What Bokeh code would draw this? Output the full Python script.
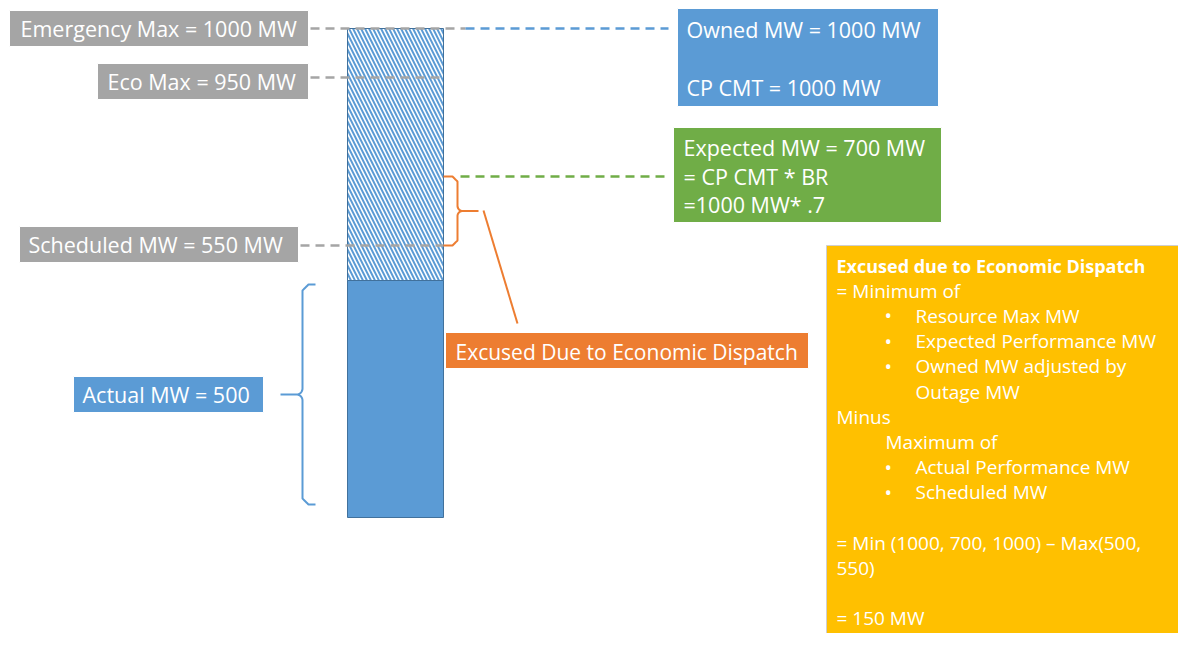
import numpy as np
from bokeh.plotting import figure
from bokeh.embed import file_html
from bokeh.resources import INLINE
from bokeh.core.properties import value

# ---- data ----
levels = ["Emergency Max", "Eco Max", "Expected MW", "Scheduled MW", "Actual MW"]
level_mw = [1000, 950, 700, 550, 500]
owned_mw = 1000
cp_cmt = 1000
br = 0.7
excused_mw = 150

left_labels = ["Emergency Max = 1000 MW", "Eco Max = 950 MW", "Scheduled MW = 550 MW"]
actual_label = "Actual MW = 500"
owned_lines = ["Owned MW = 1000 MW", "CP CMT = 1000 MW"]
expected_lines = ["Expected MW = 700 MW", "= CP CMT * BR", "=1000 MW* .7"]
excused_label = "Excused Due to Economic Dispatch"
formula_lines = [
    ("Excused due to Economic Dispatch", 0, True),
    ("= Minimum of", 0, False),
    ("Resource Max MW", 2, False),
    ("Expected Performance MW", 2, False),
    ("Owned MW adjusted by", 2, False),
    ("Outage MW", 3, False),
    ("Minus", 0, False),
    ("Maximum of", 1, False),
    ("Actual Performance MW", 2, False),
    ("Scheduled MW", 2, False),
    ("", 0, False),
    ("= Min (1000, 700, 1000) \u2013 Max(500,", 0, False),
    ("550)", 0, False),
    ("", 0, False),
    ("= 150 MW", 0, False),
]

# ---- layout (schematic positions, screen px) ----
ypos = {1000: 28, 950: 77, 700: 176, 550: 245, 500: 280, 0: 517}
BAR_L, BAR_R = 347, 443

GRAY = "#A5A5A5"; BLUE = "#5B9BD5"; GREEN = "#70AD47"; ORANGE = "#ED7D31"; YELLOW = "#FFC000"
FONT = value("Open Sans")
LBL = "21.5px"

W, H = 1178, 633
p = figure(width=W, height=H, x_range=(0, W), y_range=(H, 0),
           output_backend="svg", toolbar_location=None, min_border=0)
p.axis.visible = False
p.grid.visible = False
p.outline_line_color = None
p.background_fill_color = "white"


def box(l, t, r, b, color, line_color="white"):
    p.quad(left=[l], right=[r], top=[t], bottom=[b], fill_color=color,
           line_color=line_color, line_width=1)


def txt(x, y, s, size=LBL, bold=False, color="white"):
    p.text(x=[x], y=[y], text=[s], text_font=FONT, text_font_size=size,
           text_color=color, text_align="left", text_baseline="middle",
           text_font_style="bold" if bold else "normal")


def dash(x0, x1, y, color):
    p.line([x0, x1], [y, y], line_color=color, line_width=2.5, line_dash="9 6")


# bar
p.quad(left=[BAR_L], right=[BAR_R], top=[ypos[level_mw[0]]], bottom=[ypos[level_mw[4]]],
       fill_color="white", line_color="#41719C", line_width=1,
       hatch_pattern="left_diagonal_line", hatch_color=BLUE, hatch_scale=8, hatch_weight=2)
p.quad(left=[BAR_L], right=[BAR_R], top=[ypos[level_mw[4]]], bottom=[ypos[0]],
       fill_color=BLUE, line_color="#41719C", line_width=1)

# dashed guide lines
dash(310, 465, ypos[1000], GRAY)
dash(465, 668, ypos[1000], BLUE)
dash(310, BAR_R, ypos[950], GRAY)
dash(300, BAR_R, ypos[550], GRAY)
dash(460, 668, ypos[700], GREEN)


def brace(x_end, x_spine, x_tip, y_top, y_bot, color, r=5):
    ym = (y_top + y_bot) / 2
    s = np.sign(x_spine - x_end)
    t = np.linspace(0, np.pi / 2, 12)
    xs, ys = [x_end], [y_top]
    xs += list(x_spine - s * r * np.cos(t)); ys += list(y_top + r - r * np.cos(t))
    xs += [x_spine]; ys += [ym - r]
    xs += list(x_spine + s * r * (1 - np.cos(t))); ys += list(ym - r + r * np.sin(t))
    xs += [x_tip]; ys += [ym]
    xs += [x_spine + s * r]; ys += [ym]
    xs += list(x_spine + s * r * (1 - np.cos(t[::-1]))); ys += list(ym + r - r * np.sin(t[::-1]))
    xs += [x_spine]; ys += [y_bot - r]
    xs += list(x_spine - s * r * np.cos(t[::-1])); ys += list(y_bot - r + r * np.cos(t[::-1]))
    xs += [x_end]; ys += [y_bot]
    p.line(xs, ys, line_color=color, line_width=2)


brace(BAR_R, 457, 478, ypos[700], ypos[550], ORANGE, r=5)
brace(315, 302, 280, 284, 504, BLUE, r=6)

# orange connector
p.line([483, 517], [210, 323], line_color=ORANGE, line_width=2)

# left gray labels
box(9, 10, 308, 46, GRAY); txt(20, 28, left_labels[0])
box(97, 63, 308, 99, GRAY); txt(107, 81, left_labels[1])
box(19, 226, 298, 262, GRAY); txt(28, 244, left_labels[2])

# actual
box(73, 376, 263, 412, BLUE); txt(82, 394, actual_label)

# owned
box(677, 8, 938, 106, BLUE)
txt(686, 29, owned_lines[0]); txt(686, 87, owned_lines[1])

# expected
box(673, 127, 941, 222, GREEN)
for i, s in enumerate(expected_lines):
    txt(683, 147 + i * 28.5, s)

# excused orange
box(445, 332, 808, 368, ORANGE); txt(455, 351, excused_label, size="21px")

# formula box
box(826, 245, 1194, 650, YELLOW, line_color="#CFCFCF")
indent = {0: 836, 1: 885, 2: 915, 3: 915}
y = 265
for s, lvl, bold in formula_lines:
    if s:
        txt(indent[lvl], y, s, size="18px" if bold else "19px", bold=bold)
        if lvl == 2:
            txt(884, y, "\u2022", size="20px")
    y += 25.2

open("out.html", "w").write(file_html(p, INLINE))
